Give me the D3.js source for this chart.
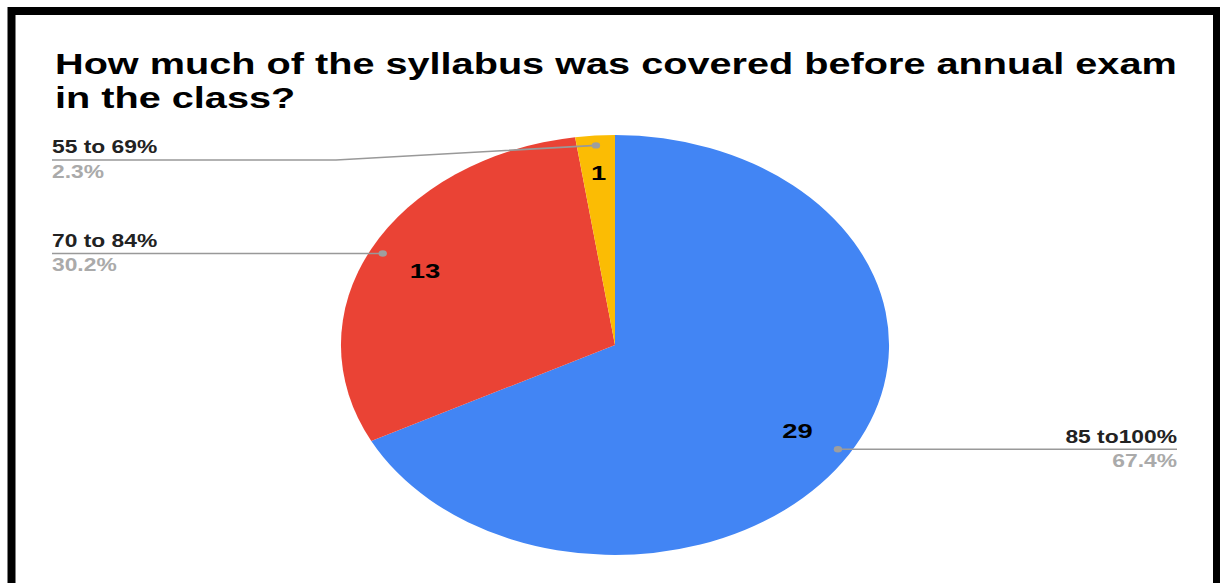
<!DOCTYPE html>
<html>
<head>
<meta charset="utf-8">
<script src="https://cdn.jsdelivr.net/npm/d3@7"></script>
<style>
  html, body { margin: 0; padding: 0; background: #fff; }
  svg { display: block; font-family: "Liberation Sans", Arial, sans-serif; }
</style>
</head>
<body>
<div id="chart"></div>
<script>
// data
const categories = ["85 to100%", "70 to 84%", "55 to 69%"];
const counts = [29, 13, 1];
const colors = ["#4285F4", "#EA4335", "#FBBC04"];
const titleLines = ["How much of the syllabus was covered before annual exam", "in the class?"];

const width = 1220, height = 583;
// the source screenshot is stretched horizontally
const sx = 1.305;
const X = v => v / sx;

const svg = d3.select("#chart").append("svg")
  .attr("width", width)
  .attr("height", height);

svg.append("rect")
  .attr("width", width).attr("height", height)
  .attr("fill", "#fff");

const g = svg.append("g").attr("transform", `scale(${sx},1)`);

// title
g.append("g").selectAll("text")
  .data(titleLines)
  .enter().append("text")
  .attr("x", X(55))
  .attr("y", (d, i) => 74 + i * 34)
  .attr("font-size", 30.4)
  .attr("font-weight", "bold")
  .attr("fill", "#000")
  .text(d => d);

const cx = X(615), cy = 345, r = 210;
const total = d3.sum(counts);

const pie = d3.pie().sort(null).value(d => d.v);
const arcs = pie(counts.map((v, i) => ({ v, name: categories[i], color: colors[i] })));
const arc = d3.arc().innerRadius(0).outerRadius(r);

const pieG = g.append("g").attr("transform", `translate(${cx},${cy})`);

pieG.selectAll("path")
  .data(arcs)
  .enter().append("path")
  .attr("d", arc)
  .attr("fill", d => d.data.color);

const mid = d => (d.startAngle + d.endAngle) / 2;
const polar = (a, k) => [Math.sin(a) * r * k, -Math.cos(a) * r * k];

// values inside slices
pieG.selectAll("text.val")
  .data(arcs)
  .enter().append("text")
  .attr("class", "val")
  .attr("x", d => polar(mid(d), d.data.v / total < 0.05 ? 0.825 : 0.78)[0])
  .attr("y", d => polar(mid(d), d.data.v / total < 0.05 ? 0.825 : 0.78)[1])
  .attr("dy", "0.36em")
  .attr("text-anchor", "middle")
  .attr("font-size", 21)
  .attr("font-weight", "bold")
  .attr("fill", "#000")
  .text(d => d.data.v);

// leader lines + labels
const leftX = X(52), rightX = X(1177);
const lab = g.append("g");
arcs.forEach(d => {
  const p = polar(mid(d), 0.953);
  const dotX = cx + p[0], dotY = cy + p[1];
  const right = p[0] > 0;
  const ly = Math.max(dotY, 160);
  const endX = right ? rightX : leftX;
  const pts = [[endX, ly]];
  if (Math.abs(ly - dotY) > 2) pts.push([X(336), ly]);
  pts.push([dotX, dotY]);
  lab.append("path")
    .attr("d", d3.line()(pts))
    .attr("fill", "none")
    .attr("stroke", "#999")
    .attr("stroke-width", 1.6);
  lab.append("circle")
    .attr("cx", dotX).attr("cy", dotY)
    .attr("r", 3.2)
    .attr("fill", "#9e9e9e");
  lab.append("text")
    .attr("x", endX).attr("y", ly - 6.5)
    .attr("text-anchor", right ? "end" : "start")
    .attr("font-size", 17.5)
    .attr("font-weight", "bold")
    .attr("fill", "#222")
    .text(d.data.name);
  lab.append("text")
    .attr("x", endX).attr("y", ly + 18)
    .attr("text-anchor", right ? "end" : "start")
    .attr("font-size", 17.5)
    .attr("font-weight", "bold")
    .attr("fill", "#aaa")
    .text(d3.format(".1f")(d.data.v / total * 100) + "%");
});

// black frame
svg.append("rect")
  .attr("x", 11.5).attr("y", 11)
  .attr("width", 1205.5).attr("height", 620)
  .attr("fill", "none")
  .attr("stroke", "#000")
  .attr("stroke-width", 8);
</script>
</body>
</html>
